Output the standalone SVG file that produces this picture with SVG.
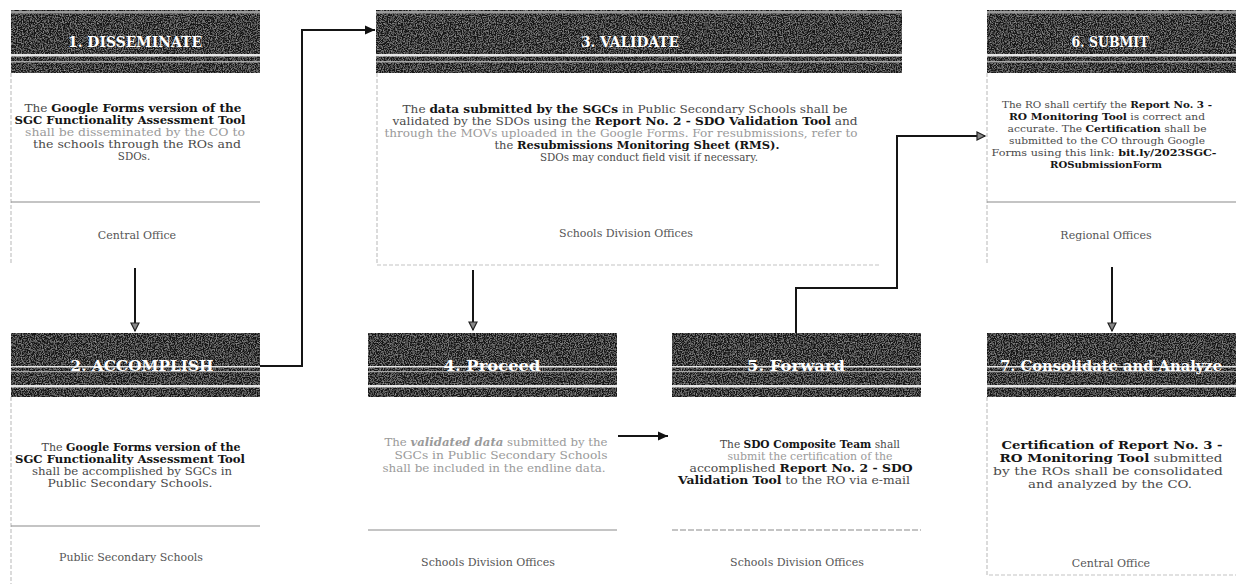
<svg xmlns="http://www.w3.org/2000/svg" width="1241" height="584" viewBox="0 0 1241 584">
<defs>
<filter id="grain" x="0" y="0" width="1" height="1">
<feTurbulence type="fractalNoise" baseFrequency="0.85" numOctaves="2" seed="4" result="n"/>
<feColorMatrix in="n" type="matrix" values="0 0 0 0 1  0 0 0 0 1  0 0 0 0 1  0.7 0 0 0 -0.3" result="m"/>
<feComposite in="m" in2="SourceGraphic" operator="in" result="s"/>
<feMerge><feMergeNode in="SourceGraphic"/><feMergeNode in="s"/></feMerge>
</filter>
<marker id="af" markerUnits="userSpaceOnUse" markerWidth="11" markerHeight="10" refX="10" refY="5" orient="auto">
<path d="M0,0.5 L10,5 L0,9.5 z" fill="#111"/>
</marker>
<marker id="ao" markerUnits="userSpaceOnUse" markerWidth="11" markerHeight="10" refX="9" refY="5" orient="auto">
<path d="M1,1 L9,5 L1,9 z" fill="#888" stroke="#222" stroke-width="1.2"/>
</marker>
<style>
.hd{fill:#161616;filter:url(#grain)}
.tp{fill:#9a9a9a}
.st{fill:#e6e6e6}
.st2{fill:#a8a8a8}
.ttl{font-family:"DejaVu Serif","Liberation Serif",serif;font-weight:bold;font-size:14px;fill:#fff;text-anchor:middle}
.bd{font-family:"DejaVu Serif","Liberation Serif",serif;font-size:10.3px;fill:#4a4a4a;text-anchor:middle}
.sm{font-size:10px}
.lg{font-size:10.8px}
.b{font-weight:bold;fill:#151515}
.lt{fill:#9a9a9a}
.it{font-style:italic;font-weight:bold}
.ft{font-family:"DejaVu Serif","Liberation Serif",serif;font-size:11px;fill:#555;text-anchor:middle}
.sep{stroke:#8a8a8a;stroke-width:1.2;fill:none}
.edge{stroke:#c4c4c4;stroke-width:1.2;stroke-dasharray:4 2;fill:none}
.cn{stroke:#151515;stroke-width:2;fill:none}
</style>
</defs>
<rect width="1241" height="584" fill="#fff"/>

<g id="node1">
<rect class="hd" x="11" y="10" width="249" height="63"/>
<rect class="tp" x="11" y="11" width="249" height="2.5"/>
<rect class="st" x="11" y="54" width="249" height="2.5"/>
<rect class="st2" x="11" y="61" width="249" height="1.5"/>
<text class="ttl" x="135" y="47" textLength="134" lengthAdjust="spacingAndGlyphs">1. DISSEMINATE</text>
<path class="edge" d="M11,73 V263"/>
<text class="bd" x="133" y="112" textLength="217" lengthAdjust="spacingAndGlyphs">The <tspan class="b">Google Forms version of the</tspan></text>
<text class="bd" x="130" y="124" textLength="231" lengthAdjust="spacingAndGlyphs"><tspan class="b">SGC Functionality Assessment Tool</tspan></text>
<text class="bd lt" x="135" y="136" textLength="220" lengthAdjust="spacingAndGlyphs">shall be disseminated by the CO to</text>
<text class="bd" x="137" y="148" textLength="208" lengthAdjust="spacingAndGlyphs">the schools through the ROs and</text>
<text class="bd" x="134" y="160">SDOs.</text>
<path class="sep" d="M11,202 H260"/>
<text class="ft" x="137" y="239">Central Office</text>
</g>

<g id="node2">
<rect class="hd" x="11" y="333" width="249" height="64"/>
<rect class="st" x="11" y="366" width="249" height="1.5"/>
<rect class="st2" x="11" y="371" width="249" height="1.2"/>
<rect class="st" x="11" y="385" width="249" height="2.5"/>
<text class="ttl" x="142" y="371" textLength="143" lengthAdjust="spacingAndGlyphs">2. ACCOMPLISH</text>
<path class="edge" d="M11,397 V584"/>
<text class="bd" x="141" y="451" textLength="199" lengthAdjust="spacingAndGlyphs">The <tspan class="b">Google Forms version of the</tspan></text>
<text class="bd" x="130" y="463" textLength="230" lengthAdjust="spacingAndGlyphs"><tspan class="b">SGC Functionality Assessment Tool</tspan></text>
<text class="bd" x="132" y="475" textLength="200" lengthAdjust="spacingAndGlyphs">shall be accomplished by SGCs in</text>
<text class="bd" x="130" y="487" textLength="165" lengthAdjust="spacingAndGlyphs">Public Secondary Schools.</text>
<path class="sep" d="M11,526 H260"/>
<text class="ft" x="131" y="561">Public Secondary Schools</text>
</g>

<g id="node3">
<rect class="hd" x="376" y="10" width="526" height="63"/>
<rect class="tp" x="376" y="11" width="526" height="2.5"/>
<rect class="st" x="376" y="54" width="526" height="2.5"/>
<rect class="st2" x="376" y="61" width="526" height="1.5"/>
<text class="ttl" x="630" y="47" textLength="98" lengthAdjust="spacingAndGlyphs">3. VALIDATE</text>
<path class="edge" d="M377,73 V265 H880"/>
<text class="bd" x="625" y="113" textLength="445" lengthAdjust="spacingAndGlyphs">The <tspan class="b">data submitted by the SGCs</tspan> in Public Secondary Schools shall be</text>
<text class="bd" x="625" y="125" textLength="465" lengthAdjust="spacingAndGlyphs">validated by the SDOs using the <tspan class="b">Report No. 2 - SDO Validation Tool</tspan> and</text>
<text class="bd lt" x="621" y="137" textLength="473" lengthAdjust="spacingAndGlyphs">through the MOVs uploaded in the Google Forms. For resubmissions, refer to</text>
<text class="bd" x="637" y="149" textLength="285" lengthAdjust="spacingAndGlyphs">the <tspan class="b">Resubmissions Monitoring Sheet (RMS).</tspan></text>
<text class="bd" x="649" y="161" textLength="218" lengthAdjust="spacingAndGlyphs">SDOs may conduct field visit if necessary.</text>
<text class="ft" x="626" y="237">Schools Division Offices</text>
</g>

<g id="node4">
<rect class="hd" x="368" y="333" width="249" height="64"/>
<rect class="st" x="368" y="366" width="249" height="1.5"/>
<rect class="st2" x="368" y="371" width="249" height="1.2"/>
<rect class="st" x="368" y="385" width="249" height="2.5"/>
<text class="ttl" x="492" y="371" textLength="97" lengthAdjust="spacingAndGlyphs">4. Proceed</text>
<text class="bd lt" x="496" y="446" textLength="223" lengthAdjust="spacingAndGlyphs">The <tspan class="it">validated data</tspan> submitted by the</text>
<text class="bd lt" x="501" y="459" textLength="213" lengthAdjust="spacingAndGlyphs">SGCs in Public Secondary Schools</text>
<text class="bd lt" x="494" y="472" textLength="223" lengthAdjust="spacingAndGlyphs">shall be included in the endline data.</text>
<path class="sep" d="M368,530 H617"/>
<text class="ft" x="488" y="566">Schools Division Offices</text>
</g>

<g id="node5">
<rect class="hd" x="672" y="333" width="249" height="64"/>
<rect class="st" x="672" y="366" width="249" height="1.5"/>
<rect class="st2" x="672" y="371" width="249" height="1.2"/>
<rect class="st" x="672" y="385" width="249" height="2.5"/>
<text class="ttl" x="796" y="371" textLength="98" lengthAdjust="spacingAndGlyphs">5. Forward</text>
<text class="bd" x="810" y="448" textLength="180" lengthAdjust="spacingAndGlyphs">The <tspan class="b">SDO Composite Team</tspan> shall</text>
<text class="bd lt" x="810" y="460" textLength="165" lengthAdjust="spacingAndGlyphs">submit the certification of the</text>
<text class="bd" x="801" y="472" textLength="223" lengthAdjust="spacingAndGlyphs">accomplished <tspan class="b">Report No. 2 - SDO</tspan></text>
<text class="bd" x="794" y="484" textLength="232" lengthAdjust="spacingAndGlyphs"><tspan class="b">Validation Tool</tspan> to the RO via e-mail</text>
<path class="sep" d="M672,530 H921" stroke-dasharray="6 2"/>
<text class="ft" x="797" y="566">Schools Division Offices</text>
</g>

<g id="node6">
<rect class="hd" x="987" y="10" width="249" height="63"/>
<rect class="tp" x="987" y="11" width="249" height="2.5"/>
<rect class="st" x="987" y="54" width="249" height="2.5"/>
<rect class="st2" x="987" y="61" width="249" height="1.5"/>
<text class="ttl" x="1110" y="47" textLength="77" lengthAdjust="spacingAndGlyphs">6. SUBMIT</text>
<path class="edge" d="M987,73 V265"/>
<text class="bd sm" x="1107" y="108" textLength="210" lengthAdjust="spacingAndGlyphs">The RO shall certify the <tspan class="b">Report No. 3 -</tspan></text>
<text class="bd sm" x="1107" y="120" textLength="196" lengthAdjust="spacingAndGlyphs"><tspan class="b">RO Monitoring Tool</tspan> is correct and</text>
<text class="bd sm" x="1107" y="132" textLength="199" lengthAdjust="spacingAndGlyphs">accurate. The <tspan class="b">Certification</tspan> shall be</text>
<text class="bd sm" x="1107" y="144" textLength="196" lengthAdjust="spacingAndGlyphs">submitted to the CO through Google</text>
<text class="bd sm" x="1104" y="156" textLength="225" lengthAdjust="spacingAndGlyphs">Forms using this link: <tspan class="b">bit.ly/2023SGC-</tspan></text>
<text class="bd sm" x="1106" y="168" textLength="112" lengthAdjust="spacingAndGlyphs"><tspan class="b">ROSubmissionForm</tspan></text>
<path class="sep" d="M987,202 H1236"/>
<text class="ft" x="1106" y="239">Regional Offices</text>
</g>

<g id="node7">
<rect class="hd" x="987" y="333" width="249" height="64"/>
<rect class="st" x="987" y="366" width="249" height="1.5"/>
<rect class="st2" x="987" y="371" width="249" height="1.2"/>
<rect class="st" x="987" y="385" width="249" height="2.5"/>
<text class="ttl" x="1111" y="371" textLength="222" lengthAdjust="spacingAndGlyphs">7. Consolidate and Analyze</text>
<path class="edge" d="M987,397 V575 H1236"/>
<text class="bd lg" x="1112" y="449" textLength="221" lengthAdjust="spacingAndGlyphs"><tspan class="b">Certification of Report No. 3 -</tspan></text>
<text class="bd lg" x="1111" y="462" textLength="223" lengthAdjust="spacingAndGlyphs"><tspan class="b">RO Monitoring Tool</tspan> submitted</text>
<text class="bd lg" x="1108" y="475" textLength="230" lengthAdjust="spacingAndGlyphs">by the ROs shall be consolidated</text>
<text class="bd lg" x="1110" y="488" textLength="164" lengthAdjust="spacingAndGlyphs">and analyzed by the CO.</text>
<text class="ft" x="1111" y="567">Central Office</text>
</g>

<g id="connectors">
<path class="cn" d="M135,268 V331" marker-end="url(#ao)"/>
<path class="cn" d="M473,270 V330" marker-end="url(#ao)"/>
<path class="cn" d="M1112,267 V331" marker-end="url(#ao)"/>
<path class="cn" d="M260,366 H302 V30 H375" marker-end="url(#af)"/>
<path class="cn" d="M618,436 H668" marker-end="url(#af)"/>
<path class="cn" d="M796,333 V288 H897 V136 H985" marker-end="url(#ao)"/>
</g>
</svg>
